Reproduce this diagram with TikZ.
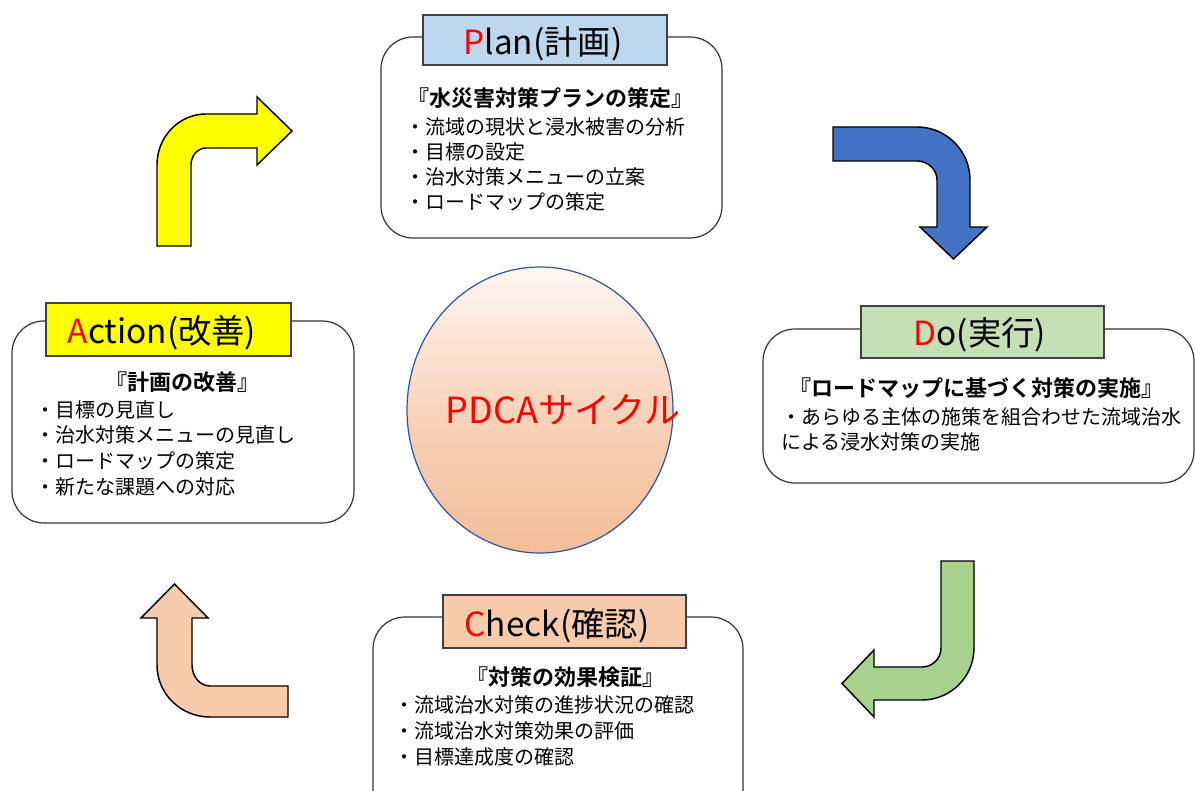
\documentclass[tikz,border=0pt]{standalone}
\usepackage{fontspec}
\setmainfont{Noto Sans CJK JP}[BoldFont={Noto Sans CJK JP Bold}]
\usetikzlibrary{shapes.geometric}
\definecolor{pdred}{HTML}{FF0000}
\definecolor{planfill}{HTML}{BDD7EE}
\definecolor{dofill}{HTML}{C5E0B4}
\definecolor{checkfill}{HTML}{F8CBAD}
\definecolor{actfill}{HTML}{FFFF00}
\definecolor{arrblue}{HTML}{4472C4}
\definecolor{arrgreen}{HTML}{A9D18E}
\definecolor{arrpeach}{HTML}{F8CBAD}
\definecolor{arryellow}{HTML}{FFFF00}
\definecolor{circtop}{HTML}{FEF7F3}
\definecolor{circmid}{HTML}{F8D3BA}
\definecolor{circbot}{HTML}{F4BD98}
\definecolor{circline}{HTML}{2F5597}
\begin{document}
\begin{tikzpicture}[x=0.75pt,y=-0.75pt,
  panel/.style={draw=black!80, line width=0.9pt, rounded corners=24pt, fill=white},
  titlebox/.style={draw=black!75, line width=0.9pt},
  bodytxt/.style={anchor=west, inner sep=0pt, font=\fontsize{15}{17}\selectfont},
  headtxt/.style={inner sep=0pt, font=\bfseries\fontsize{16.5}{18}\selectfont},
  ttltxt/.style={inner sep=0pt, font=\fontsize{25}{28}\selectfont},
  bigarrow/.style={draw=black, line width=1.1pt, line join=miter}]
\useasboundingbox (0,0) rectangle (1195,791);

% ---------- panels ----------
\draw[panel] (381,37) rectangle (722,238);
\draw[panel] (763,329) rectangle (1194,483);
\draw[panel] (373,617) rectangle (743,830);
\draw[panel] (12,321) rectangle (354,523);

% ---------- title boxes ----------
\draw[titlebox, fill=planfill] (423,15) rectangle (667,65);
\draw[titlebox, fill=dofill] (861,306) rectangle (1104,358);
\draw[titlebox, fill=checkfill] (443,595) rectangle (686,648);
\draw[titlebox, fill=actfill] (46,303) rectangle (291,356);

\node[ttltxt] (plantitle) at (543,44) {\textcolor{pdred}{P}lan(計画)};
\node[ttltxt] (dotitle) at (980,335) {\textcolor{pdred}{D}o(実行)};
\node[ttltxt] (checktitle) at (557,626) {\textcolor{pdred}{C}heck(確認)};
\node[ttltxt] (acttitle) at (162,333) {\textcolor{pdred}{A}ction(改善)};

% ---------- Plan text ----------
\node[headtxt] (planhead) at (550,98) {『水災害対策プランの策定』};
\node[bodytxt] (plan1) at (405,127) {・流域の現状と浸水被害の分析};
\node[bodytxt] (plan2) at (405,152) {・目標の設定};
\node[bodytxt] (plan3) at (405,177) {・治水対策メニューの立案};
\node[bodytxt] (plan4) at (405,202) {・ロードマップの策定};

% ---------- Do text ----------
\node[headtxt] (dohead) at (976,388) {『ロードマップに基づく対策の実施』};
\node[bodytxt] (do1) at (781,417) {・あらゆる主体の施策を組合わせた流域治水};
\node[bodytxt] (do2) at (781,442) {による浸水対策の実施};

% ---------- Check text ----------
\node[headtxt] (checkhead) at (565,677) {『対策の効果検証』};
\node[bodytxt] (check1) at (394,705) {・流域治水対策の進捗状況の確認};
\node[bodytxt] (check2) at (394,731) {・流域治水対策効果の評価};
\node[bodytxt] (check3) at (394,757) {・目標達成度の確認};

% ---------- Action text ----------
\node[headtxt] (acthead) at (182,382) {『計画の改善』};
\node[bodytxt] (act1) at (35,410) {・目標の見直し};
\node[bodytxt] (act2) at (35,435) {・治水対策メニューの見直し};
\node[bodytxt] (act3) at (35,461) {・ロードマップの策定};
\node[bodytxt] (act4) at (35,487) {・新たな課題への対応};

% ---------- centre circle ----------
\node[ellipse, draw=circline, line width=0.9pt, inner sep=0pt,
      minimum width=199.5pt, minimum height=214.5pt,
      top color=circtop, bottom color=circbot, middle color=circmid] (pdca) at (540,410) {};
\node[inner sep=0pt, text=pdred, font=\fontsize{27}{30}\selectfont] (pdcatext) at (563,410) {PDCAサイクル};

% ---------- curved arrows ----------
% Action -> Plan (yellow)
\draw[bigarrow, fill=arryellow] (157,246) -- (157,165)
  .. controls (157,136.8) and (178.9,114) .. (206,114)
  -- (257,114) -- (257,97) -- (292,131) -- (257,165) -- (257,148) -- (206,148)
  .. controls (197.7,148) and (191,155.6) .. (191,165)
  -- (191,246) -- cycle;
% Plan -> Do (blue)
\draw[bigarrow, fill=arrblue] (833,127) -- (917,127)
  .. controls (946.3,127) and (970,150.7) .. (970,180)
  -- (970,227) -- (987,227) -- (953.5,259) -- (920,227) -- (937,227) -- (937,180)
  .. controls (937,169.5) and (928,161) .. (917,161)
  -- (833,161) -- cycle;
% Do -> Check (green)
\draw[bigarrow, fill=arrgreen] (941,561) -- (974,561) -- (974,648)
  .. controls (974,676.7) and (950.7,700) .. (922,700)
  -- (874,700) -- (874,717) -- (842,683.5) -- (874,650) -- (874,667) -- (922,667)
  .. controls (932.5,667) and (941,658.5) .. (941,648)
  -- cycle;
% Check -> Action (peach)
\draw[bigarrow, fill=arrpeach] (288,686) -- (288,717) -- (210,717)
  .. controls (180.7,717) and (157,693.7) .. (157,665)
  -- (157,618) -- (141,618) -- (174.5,584) -- (208,618) -- (192,618) -- (192,665)
  .. controls (192,676.6) and (200.1,686) .. (210,686)
  -- cycle;
\end{tikzpicture}
\end{document}
